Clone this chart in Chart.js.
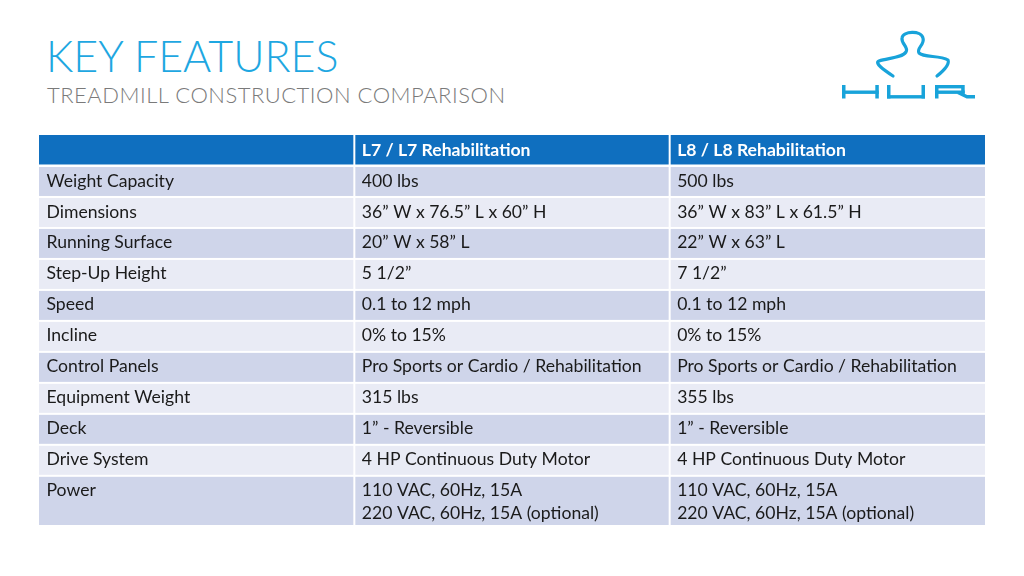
<!DOCTYPE html>
<html>
<head>
<meta charset="utf-8">
<script src="https://cdn.jsdelivr.net/npm/chart.js@4.4.1/dist/chart.umd.min.js"></script>
<style>
  html, body { margin: 0; padding: 0; background: #ffffff; }
  #wrap { position: relative; width: 1024px; height: 576px; overflow: hidden; background: #fff; }
  #title { position: absolute; left: 46px; top: 33.5px; font: 300 43px Lato, sans-serif; line-height: 1; color: #1ea7e1; white-space: nowrap; }
  #subtitle { position: absolute; left: 47px; top: 83.5px; font: 300 22px Lato, sans-serif; letter-spacing: 0.5px; line-height: 1; color: #7a7a7a; white-space: nowrap; }
  #logo { position: absolute; left: 835px; top: 25px; }
  #c { position: absolute; left: 0; top: 0; }
</style>
</head>
<body>
<div id="wrap">
  <div id="title">KEY FEATURES</div>
  <div id="subtitle">TREADMILL CONSTRUCTION COMPARISON</div>
  <svg id="logo" width="150" height="80" viewBox="835 25 150 80" aria-label="HUR">
    <g fill="none" stroke="#18a3da" stroke-width="3.2" stroke-linecap="round" stroke-linejoin="round">
      <path d="M 893 76 C 884 70, 874 63, 879 61 C 888 58, 902 58, 906 52 C 909 47, 901 44, 902 38 C 903 31, 921 30, 923 38 C 925 45, 916 48, 919 53 C 924 58, 940 55, 948 60 C 950 65, 942 72, 937 76"/>
    </g>
    <g fill="#18a3da">
      <rect x="842" y="85" width="3.5" height="13.5"/>
      <rect x="875.3" y="85" width="3.5" height="13.5"/>
      <rect x="842" y="90.5" width="36.7" height="3.4"/>
      <rect x="887" y="85" width="3.5" height="13.5"/>
      <rect x="921.5" y="85" width="3.5" height="13.5"/>
      <rect x="887" y="95.1" width="38" height="3.4"/>
      <rect x="935" y="85" width="3.5" height="13.5"/>
      <rect x="935" y="85" width="29" height="3.4"/>
      <rect x="961.2" y="85" width="3.5" height="8.5"/>
      <rect x="935" y="90.5" width="29.7" height="3.4"/>
    </g>
    <path d="M 958 92.5 L 967 96.8 L 975 96.8" fill="none" stroke="#18a3da" stroke-width="3.4"/>
  </svg>
  <canvas id="c" width="1024" height="576"></canvas>
</div>
<script>
// ---- data ----
const columnHeaders = ['', 'L7 / L7 Rehabilitation', 'L8 / L8 Rehabilitation'];
const features = [
  'Weight Capacity', 'Dimensions', 'Running Surface', 'Step-Up Height', 'Speed', 'Incline',
  'Control Panels', 'Equipment Weight', 'Deck', 'Drive System', 'Power'
];
const l7Specs = [
  '400 lbs', '36\u201D W x 76.5\u201D L x 60\u201D H', '20\u201D W x 58\u201D L', '5 1/2\u201D',
  '0.1 to 12 mph', '0% to 15%', 'Pro Sports or Cardio / Rehabilitation', '315 lbs',
  '1\u201D - Reversible', '4 HP Continuous Duty Motor',
  '110 VAC, 60Hz, 15A\n220 VAC, 60Hz, 15A (optional)'
];
const l8Specs = [
  '500 lbs', '36\u201D W x 83\u201D L x 61.5\u201D H', '22\u201D W x 63\u201D L', '7 1/2\u201D',
  '0.1 to 12 mph', '0% to 15%', 'Pro Sports or Cardio / Rehabilitation', '355 lbs',
  '1\u201D - Reversible', '4 HP Continuous Duty Motor',
  '110 VAC, 60Hz, 15A\n220 VAC, 60Hz, 15A (optional)'
];

// ---- table model built from the arrays ----
const tableRows = [columnHeaders].concat(features.map((f, i) => [f, l7Specs[i], l8Specs[i]]));
const EXTRA_LINE = 0.62;   // row-height units added per extra text line
const LINE_STEP = 0.73;    // text line spacing in row units
const rowLayout = [];
let acc = 0;
tableRows.forEach((r) => {
  const lines = Math.max(...r.map(t => t.split('\n').length));
  const h = 1 + (lines - 1) * EXTRA_LINE;
  rowLayout.push({ top: acc, bottom: acc + h });
  acc += h;
});
const totalUnits = acc;

const tablePlugin = {
  id: 'tablePlugin',
  afterDatasetsDraw(chart) {
    const ctx = chart.ctx;
    const xs = chart.scales.x, ys = chart.scales.y;
    const unitPx = Math.abs(ys.getPixelForValue(1) - ys.getPixelForValue(0));
    ctx.save();
    tableRows.forEach((row, ri) => {
      const yTop = ys.getPixelForValue(rowLayout[ri].top);
      const yBot = ys.getPixelForValue(rowLayout[ri].bottom);
      row.forEach((txt, ci) => {
        const xL = xs.getPixelForValue(ci);
        const xR = xs.getPixelForValue(ci + 1);
        let fill;
        if (ri === 0) fill = '#0f6fbf';
        else fill = (ri % 2 === 1) ? '#cfd5ea' : '#e9ebf5';
        ctx.fillStyle = fill;
        const t = yTop + (ri === 0 ? 0 : 1);
        const b = yBot - (ri === 0 ? 1.5 : 1);
        ctx.fillRect(xL + (ci === 0 ? 0 : 1), t, (xR - xL) - (ci === 0 ? 1 : (ci === row.length - 1 ? 1 : 2)), b - t);
        if (!txt) return;
        ctx.fillStyle = ri === 0 ? '#ffffff' : '#1a1a1a';
        ctx.font = (ri === 0 ? 'bold ' : '') + '17.6px Lato, sans-serif';
        ctx.textBaseline = 'middle';
        ctx.textAlign = 'left';
        txt.split('\n').forEach((line, li) => {
          ctx.fillText(line, xL + 7.5, yTop + unitPx * (0.48 + li * LINE_STEP));
        });
      });
    });
    ctx.restore();
  }
};

new Chart(document.getElementById('c'), {
  type: 'scatter',
  data: { datasets: [] },
  options: {
    responsive: false,
    devicePixelRatio: 1,
    animation: false,
    layout: { padding: { left: 39, right: 39, top: 135, bottom: 50 } },
    plugins: { legend: { display: false }, tooltip: { enabled: false }, title: { display: false } },
    scales: {
      x: { type: 'linear', min: 0, max: columnHeaders.length, display: false },
      y: { type: 'linear', min: 0, max: totalUnits, reverse: true, display: false }
    }
  },
  plugins: [tablePlugin]
});
</script>
</body>
</html>
